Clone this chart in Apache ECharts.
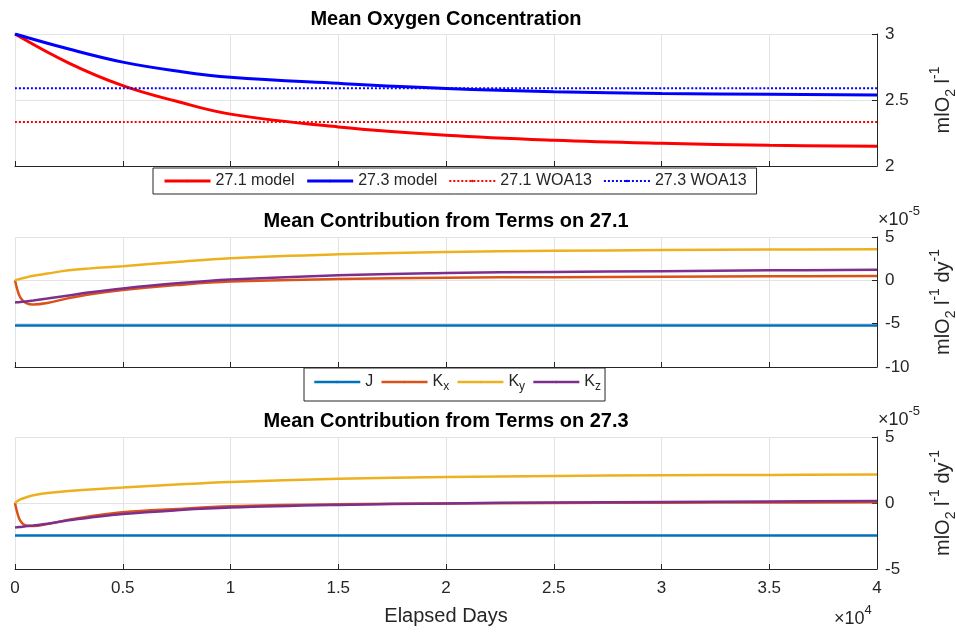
<!DOCTYPE html>
<html>
<head>
<meta charset="utf-8">
<script src="https://cdn.jsdelivr.net/npm/echarts@6/dist/echarts.min.js"></script>
<style>html,body{margin:0;padding:0;background:#fff}#c{width:956px;height:633px}</style>
</head>
<body>
<div id="c"></div>
<script>
// ---- data ----
const oxyDays   = [0, 2500, 5000, 7500, 10000, 15000, 20000, 25000, 30000, 35000, 40000];
const model271  = [3.0, 2.78, 2.609, 2.49, 2.393, 2.296, 2.233, 2.195, 2.172, 2.157, 2.149];
const model273  = [3.0, 2.886, 2.787, 2.72, 2.672, 2.626, 2.588, 2.563, 2.55, 2.543, 2.538];
const woaDays   = [0, 40000];
const woa271    = [2.334, 2.334];
const woa273    = [2.589, 2.589];

// term contributions, in units of 1e-5 mlO2 l^-1 dy^-1
const termDays = [0, 100, 250, 500, 850, 1500, 2500, 3500, 5000, 7500, 10000, 15000, 20000, 25000, 30000, 35000, 40000];
const J271  = [-5.2, -5.2, -5.2, -5.2, -5.2, -5.2, -5.2, -5.2, -5.2, -5.2, -5.2, -5.2, -5.2, -5.2, -5.2, -5.2, -5.2];
const Kx271 = [0, -1.0, -2.0, -2.6, -2.8, -2.62, -2.05, -1.6, -1.13, -0.55, -0.14, 0.15, 0.3, 0.37, 0.42, 0.46, 0.49];
const Ky271 = [0, 0.08, 0.17, 0.33, 0.52, 0.78, 1.16, 1.38, 1.63, 2.12, 2.55, 3.0, 3.28, 3.4, 3.49, 3.55, 3.6];
const Kz271 = [-2.55, -2.53, -2.5, -2.43, -2.32, -2.1, -1.74, -1.38, -0.94, -0.35, 0.09, 0.6, 0.85, 0.97, 1.06, 1.15, 1.22];
const J273  = [-2.47, -2.47, -2.47, -2.47, -2.47, -2.47, -2.47, -2.47, -2.47, -2.47, -2.47, -2.47, -2.47, -2.47, -2.47, -2.47, -2.47];
const Kx273 = [0, -0.7, -1.35, -1.7, -1.75, -1.6, -1.26, -1.0, -0.7, -0.45, -0.25, -0.1, -0.03, 0.0, 0.02, 0.04, 0.05];
const Ky273 = [0, 0.13, 0.27, 0.42, 0.58, 0.75, 0.91, 1.03, 1.17, 1.4, 1.59, 1.84, 1.97, 2.05, 2.1, 2.13, 2.15];
const Kz273 = [-1.86, -1.84, -1.81, -1.76, -1.7, -1.58, -1.31, -1.1, -0.83, -0.55, -0.35, -0.15, -0.03, 0.04, 0.08, 0.12, 0.15];

const titles = ['Mean Oxygen Concentration', 'Mean Contribution from Terms on 27.1', 'Mean Contribution from Terms on 27.3'];
const oxyLegend = ['27.1 model', '27.3 model', '27.1 WOA13', '27.3 WOA13'];
const termLegend = ['J', 'Kx', 'Ky', 'Kz'];
const xTicks = {min: 0, max: 40000, interval: 5000};
const yTicks = [{min: 2, max: 3, interval: 0.5}, {min: -10, max: 5, interval: 5}, {min: -5, max: 5, interval: 5}];

// ---- chart ----
const FONT = 'Liberation Sans, Arial, sans-serif';
const TXT = '#262626';
const pair = (xs, ys) => xs.map((x, i) => [x, ys[i]]);
const colors = {J: '#0072BD', Kx: '#D95319', Ky: '#EDB120', Kz: '#7E2F8E'};

const grids = [
  {left: 15, right: 79, top: 34, height: 132},
  {left: 15, right: 79, top: 237, height: 130},
  {left: 15, right: 79, top: 437, height: 132}
].map(g => Object.assign(g, {containLabel: false, outerBoundsMode: 'none'}));

const nameRich = {
  n: {fontSize: 20, lineHeight: 30, verticalAlign: 'middle', fontFamily: FONT, color: TXT},
  sub: {fontSize: 14, lineHeight: 15, verticalAlign: 'bottom', fontFamily: FONT, color: TXT},
  sup: {fontSize: 14, lineHeight: 15, verticalAlign: 'top', fontFamily: FONT, color: TXT}
};
const yNames = ['{n|mlO}{sub|2}{n| l}{sup|-1}', '{n|mlO}{sub|2}{n| l}{sup|-1}{n| dy}{sup|-1}', '{n|mlO}{sub|2}{n| l}{sup|-1}{n| dy}{sup|-1}'];

const xAxes = [0, 1, 2].map(i => ({
  type: 'value', gridIndex: i, min: xTicks.min, max: xTicks.max, interval: xTicks.interval,
  axisLine: {show: true, onZero: false, lineStyle: {color: TXT, width: 1}},
  axisTick: {show: true, inside: true, length: 5, lineStyle: {color: TXT}},
  axisLabel: {show: i === 2, formatter: v => String(v / 1e4), fontSize: 17, color: TXT, fontFamily: FONT, margin: 11},
  splitLine: {show: true, lineStyle: {color: '#e3e3e3', width: 1}},
  name: i === 2 ? 'Elapsed Days' : '', nameLocation: 'middle', nameGap: 37,
  nameTextStyle: {fontSize: 20, color: TXT, fontFamily: FONT}
}));

const yAxes = [0, 1, 2].map(i => ({
  type: 'value', gridIndex: i, position: 'right',
  min: yTicks[i].min, max: yTicks[i].max, interval: yTicks[i].interval,
  axisLine: {show: true, onZero: false, lineStyle: {color: TXT, width: 1}},
  axisTick: {show: true, inside: true, length: 5, lineStyle: {color: TXT}},
  axisLabel: {fontSize: 17, color: TXT, fontFamily: FONT, margin: 8},
  splitLine: {show: true, lineStyle: {color: '#e3e3e3', width: 1}},
  name: yNames[i], nameLocation: 'middle', nameRotate: 90, nameGap: 51,
  nameTextStyle: {rich: nameRich}
}));

function lineSeries(name, xi, data, color, width, type) {
  return {
    type: 'line', name: name, xAxisIndex: xi, yAxisIndex: xi, data: data,
    symbol: 'none', showSymbol: false, smooth: 0.4,
    lineStyle: {color: color, width: width, type: type || 'solid'},
    itemStyle: {color: color}, animation: false, silent: true
  };
}

const series = [
  lineSeries('27.1 model', 0, pair(oxyDays, model271), '#ff0000', 3),
  lineSeries('27.3 model', 0, pair(oxyDays, model273), '#0000ff', 3),
  lineSeries('27.1 WOA13', 0, pair(woaDays, woa271), '#ff0000', 2, 'dotted'),
  lineSeries('27.3 WOA13', 0, pair(woaDays, woa273), '#0000ff', 2, 'dotted'),
  lineSeries('J', 1, pair(termDays, J271), colors.J, 2.5),
  lineSeries('Kx', 1, pair(termDays, Kx271), colors.Kx, 2.5),
  lineSeries('Ky', 1, pair(termDays, Ky271), colors.Ky, 2.5),
  lineSeries('Kz', 1, pair(termDays, Kz271), colors.Kz, 2.5),
  lineSeries('J', 2, pair(termDays, J273), colors.J, 2.5),
  lineSeries('Kx', 2, pair(termDays, Kx273), colors.Kx, 2.5),
  lineSeries('Ky', 2, pair(termDays, Ky273), colors.Ky, 2.5),
  lineSeries('Kz', 2, pair(termDays, Kz273), colors.Kz, 2.5)
];

const titleTops = [9, 211, 411];
const multRich = {
  a: {fontSize: 18, lineHeight: 24, verticalAlign: 'bottom', fontFamily: FONT, fill: TXT},
  s: {fontSize: 13, lineHeight: 13, verticalAlign: 'top', fontFamily: FONT, fill: TXT}
};
const oxyLegendData = oxyLegend.map((n, i) => ({name: n, lineStyle: {width: i < 2 ? 3 : 2}}));
const termLegendData = termLegend.map(n => ({name: n, lineStyle: {width: 2.5}}));
const option = {
  backgroundColor: '#ffffff',
  animation: false,
  title: titles.map((t, i) => ({
    text: t, left: 446, top: titleTops[i], textAlign: 'center', padding: 0,
    textStyle: {fontSize: 20, fontWeight: 'bold', color: '#000', fontFamily: FONT}
  })),
  grid: grids,
  xAxis: xAxes,
  yAxis: yAxes,
  legend: [
    {
      data: oxyLegendData, left: 153, top: 168, orient: 'horizontal', selectedMode: false,
      itemWidth: 46, itemHeight: 3, itemGap: 11, padding: [5, 10, 5, 10],
      borderColor: '#262626', borderWidth: 1, backgroundColor: '#fff',
      textStyle: {fontSize: 16, color: TXT, fontFamily: FONT}
    },
    {
      data: termLegendData, left: 304, top: 368, orient: 'horizontal', selectedMode: false,
      itemWidth: 46, itemHeight: 3, itemGap: 7, padding: [6, 4, 8, 9],
      borderColor: '#262626', borderWidth: 1, backgroundColor: '#fff',
      formatter: n => n === 'J' ? '{a|J}' : '{a|K}{s|' + n.slice(1) + '}',
      textStyle: {
        fontSize: 16, color: TXT, fontFamily: FONT,
        rich: {
          a: {fontSize: 16, lineHeight: 22, verticalAlign: 'middle', fontFamily: FONT, color: TXT},
          s: {fontSize: 12, lineHeight: 12, verticalAlign: 'bottom', fontFamily: FONT, color: TXT}
        }
      }
    }
  ],
  graphic: [
    {type: 'text', left: 878, top: 205, silent: true, style: {text: '{a|×10}{s|-5}', rich: multRich}},
    {type: 'text', left: 878, top: 405, silent: true, style: {text: '{a|×10}{s|-5}', rich: multRich}},
    {type: 'text', left: 834, top: 604, silent: true, style: {text: '{a|×10}{s|4}', rich: multRich}}
  ],
  series: series
};

const chart = echarts.init(document.getElementById('c'), null, {renderer: 'canvas'});
chart.setOption(option);
</script>
</body>
</html>
